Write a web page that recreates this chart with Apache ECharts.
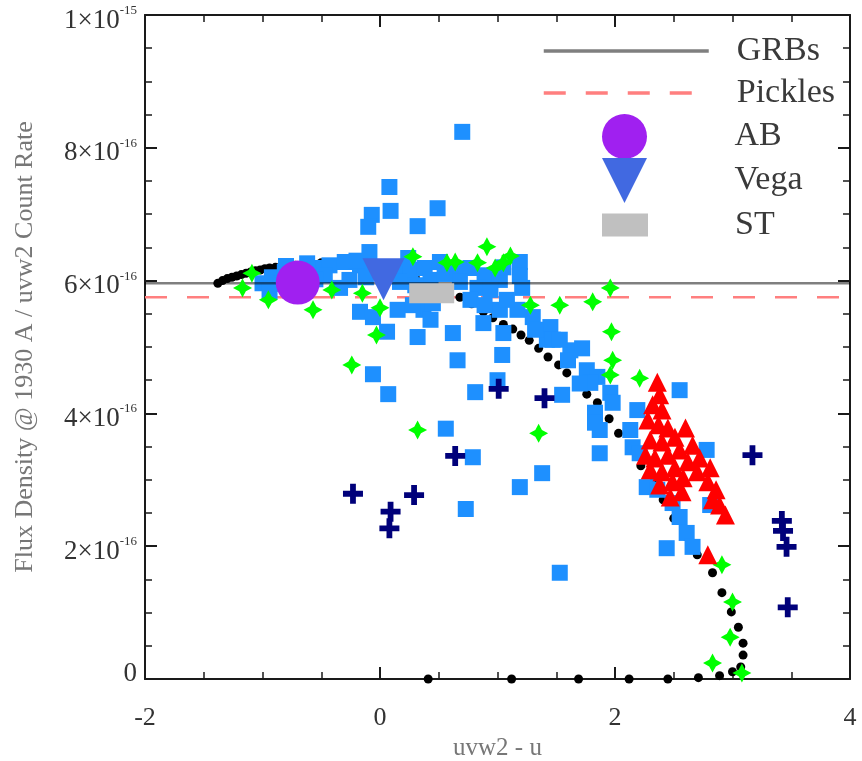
<!DOCTYPE html>
<html>
<head>
<meta charset="utf-8">
<script src="https://cdn.jsdelivr.net/npm/echarts@6/dist/echarts.min.js"></script>
<style>html,body{margin:0;padding:0;background:#fff}#c{width:862px;height:761px}</style>
</head>
<body>
<div id="c"></div>
<script>
// y values in units of 1e-16
const xTickValues = [-2, 0, 2, 4];
const yTickValues = [0, 2, 4, 6, 8, 10];
const yTickMantissa = ['0', '2', '4', '6', '8', '1'];
const yTickExponent = ['', '-16', '-16', '-16', '-16', '-15'];

const grbLevel = 5.96;
const picklesLevel = 5.75;

const abPoint = [[-0.70, 5.97]];
const vegaPoint = [[0.03, 6.02]];
const stPoint = [[0.44, 5.81]];

const blackDots = [[-1.38,5.96],[-1.34,6.0],[-1.30,6.03],[-1.26,6.05],[-1.22,6.07],[-1.18,6.09],[-1.14,6.11],[-1.10,6.13],[-1.06,6.15],[-1.02,6.16],[-0.98,6.18],[-0.94,6.19],[-0.89,6.2],[-0.84,6.21],[-0.79,6.22],[-0.72,6.23],[-0.65,6.25],[-0.58,6.26],[-0.5,6.27],[-0.42,6.27],[-0.3,6.26],[-0.15,6.23],[0,6.19],[0.15,6.13],[0.3,6.05],[0.44,5.96],[0.57,5.86],[0.68,5.75],[0.78,5.65],[0.88,5.53],[0.96,5.44],[1.05,5.34],[1.13,5.27],[1.2,5.18],[1.27,5.1],[1.35,4.98],[1.43,4.85],[1.52,4.73],[1.59,4.61],[1.69,4.44],[1.76,4.29],[1.85,4.16],[1.95,3.92],[2.03,3.7],[2.13,3.46],[2.22,3.21],[2.32,2.95],[2.41,2.7],[2.5,2.42],[2.6,2.15],[2.7,1.87],[2.83,1.6],[2.91,1.3],[2.99,1.01],[3.05,0.78],[3.09,0.54],[3.09,0.36],[3.07,0.18],[3.0,0.11],[2.89,0.05],[2.71,0.02],[2.45,0],[2.12,0],[1.69,0],[1.12,0],[0.41,0]];

const blueSquares = [[0.08,7.41],[0.09,7.05],[-0.07,6.99],[-0.1,6.81],[0.32,6.82],[0.49,7.09],[0.7,8.24],[-0.09,6.43],
[-1.0,5.96],[-0.92,6.05],[-0.81,6.13],[-0.68,6.13],[-0.55,6.19],[-0.43,6.23],[-0.3,6.28],[-0.17,6.23],[-0.04,6.19],[0.13,6.19],[0.26,6.16],[0.38,6.19],[0.51,6.28],[0.64,6.16],[0.77,6.19],[0.89,6.08],[1.02,6.01],[1.19,6.28],[1.19,6.07],[1.21,5.89],[0.24,6.34],[-0.47,6.08],[-0.26,6.01],[-0.34,5.89],[0.17,5.98],[0.43,6.01],[0.68,5.98],[0.83,5.89],[0.94,5.86],[-0.68,5.93],[-0.94,5.83],[-0.85,5.95],[-0.55,6.02],[-0.12,6.05],[0.3,5.93],[0.55,6.1],[1.05,6.2],[-0.8,6.22],[-0.62,6.26],[-0.2,6.3],
[-0.17,5.53],[-0.06,5.45],[0.15,5.56],[0.06,5.23],[0.37,5.56],[0.43,5.41],[0.32,5.15],[0.28,5.63],[0.45,5.66],[0.62,5.21],[0.66,4.8],[1.04,4.88],[1.05,5.21],[-0.06,4.59],[0.07,4.29],[0.81,4.32],[1.0,4.5],[0.56,3.77],[0.79,3.34],[1.19,2.89],[1.38,3.1],[0.73,2.56],[1.55,4.28],[1.53,1.6],[0.88,5.36],[1.02,5.56],[1.17,5.56],[1.3,5.45],[1.45,5.3],[1.42,5.11],[1.62,4.95],[1.72,4.98],[1.08,5.71],[1.47,5.11],[1.76,4.65],[1.85,4.55],[1.96,4.31],[1.98,4.16],[1.83,4.01],[1.87,3.75],[1.87,3.4],[2.19,4.05],[2.13,3.75],[2.15,3.49],[2.27,2.89],[2.36,2.85],[2.49,2.65],[2.55,2.44],[2.61,2.2],[2.44,1.97],[2.55,4.35],[2.78,3.45],[2.81,2.62],[2.66,1.99],[1.79,4.46],[2.21,3.4],[1.83,3.86],[0.77,5.71],[0.89,5.63],[1.32,5.26],[1.53,5.11],[1.6,4.8],[1.7,4.45]];

const greenStars = [[-1.09,6.11],[-1.17,5.89],[-0.95,5.71],[-0.57,5.56],[-0.41,5.86],[-0.15,5.81],[0.0,5.59],[-0.03,5.18],[-0.24,4.73],[0.28,6.36],[0.32,3.75],[1.35,3.7],[0.64,6.28],[0.57,6.27],[0.83,6.27],[0.91,6.51],[0.98,6.19],[1.11,6.37],[1.05,6.27],[1.28,5.63],[1.53,5.63],[1.81,5.68],[1.96,5.89],[1.97,5.23],[1.98,4.8],[1.96,4.58],[2.21,4.53],[2.91,1.72],[3.0,1.16],[2.98,0.63],[2.83,0.24],[3.08,0.09]];

const navyCrosses = [[-0.23,2.79],[0.09,2.52],[0.08,2.27],[0.29,2.77],[0.64,3.36],[1.01,4.37],[1.4,4.23],[3.17,3.37],[3.42,2.38],[3.43,2.23],[3.46,1.99],[3.47,1.08]];

const redTriangles = [[2.36,4.47],[2.38,4.28],[2.32,4.13],[2.4,4.05],[2.28,3.9],[2.37,3.83],[2.45,3.78],[2.3,3.6],[2.4,3.57],[2.51,3.64],[2.6,3.78],[2.26,3.37],[2.34,3.33],[2.45,3.37],[2.55,3.45],[2.66,3.52],[2.3,3.15],[2.4,3.12],[2.51,3.18],[2.62,3.27],[2.72,3.33],[2.38,2.92],[2.49,2.97],[2.58,3.03],[2.7,3.12],[2.81,3.18],[2.47,2.74],[2.57,2.82],[2.79,2.97],[2.86,2.85],[2.83,2.7],[2.89,2.62],[2.94,2.47],[2.79,1.87]];

const FONT = "'Liberation Serif','Times New Roman',serif";
const STAR = 'path://M0,-10 L3.5,-3.5 L10,0 L3.5,3.5 L0,10 L-3.5,3.5 L-10,0 L-3.5,-3.5 Z';
const PLUS = 'path://M-2.6,-9 h5.2 v6.4 h6.4 v5.2 h-6.4 v6.4 h-5.2 v-6.4 h-6.4 v-5.2 h6.4 z';
const DOWNTRI = 'path://M0,0 L2,0 L1,2 Z';

const axisCommon = {
  min: 0, max: 10, interval: 2,
  axisLine: {show: true, onZero: false, lineStyle: {color: '#1a1a1a', width: 2}},
  axisTick: {inside: true, length: 12, lineStyle: {color: '#1a1a1a', width: 2}},
  minorTick: {show: true, splitNumber: 4, length: 7, lineStyle: {color: '#1a1a1a', width: 1.5}},
  splitLine: {show: false}
};

function yLabel(v) {
  const i = yTickValues.indexOf(Math.round(v));
  if (i < 0) return '';
  if (yTickExponent[i] === '') return '{z|' + yTickMantissa[i] + '}';
  return '{b|' + yTickMantissa[i] + '×10}{s|' + yTickExponent[i] + '}';
}

const legendBase = {
  orient: 'vertical', padding: 0, selectedMode: false,
  itemStyle: {opacity: 0},
  textStyle: {fontFamily: FONT, fontSize: 34, color: '#3a3a3a', lineHeight: 34}
};
const symLegend = {itemStyle: {opacity: 1}};

const chart = echarts.init(document.getElementById('c'), null, {renderer: 'canvas'});
chart.setOption({
  animation: false,
  backgroundColor: '#fff',
  grid: {left: 145, right: 12, top: 15, bottom: 82, containLabel: false, outerBoundsMode: 'none'},
  xAxis: [
    Object.assign({}, axisCommon, {
      type: 'value', min: -2, max: 4, interval: 2, position: 'bottom',
      name: 'uvw2 - u', nameLocation: 'middle', nameGap: 55,
      nameTextStyle: {fontFamily: FONT, fontSize: 25, color: '#777'},
      axisLabel: {margin: 26, fontFamily: FONT, fontSize: 26, color: '#333',
        formatter: v => xTickValues.indexOf(v) >= 0 ? String(v) : ''}
    }),
    Object.assign({}, axisCommon, {
      type: 'value', min: -2, max: 4, interval: 2, position: 'top', axisLabel: {show: false}
    })
  ],
  yAxis: [
    Object.assign({}, axisCommon, {
      type: 'value', position: 'left',
      name: 'Flux Density @ 1930 A / uvw2 Count Rate', nameLocation: 'middle', nameGap: 107,
      nameTextStyle: {fontFamily: FONT, fontSize: 26, color: '#777'},
      axisLabel: {margin: 8, formatter: yLabel,
        rich: {
          b: {fontFamily: FONT, fontSize: 27, color: '#333', lineHeight: 30, padding: [11, 0, 0, 0]},
          s: {fontFamily: FONT, fontSize: 13, color: '#333', verticalAlign: 'top', lineHeight: 14, padding: [4, 0, 0, 0]},
          z: {fontFamily: FONT, fontSize: 27, color: '#333', lineHeight: 30, padding: [0, 0, 10, 0]}
        }}
    }),
    Object.assign({}, axisCommon, {type: 'value', position: 'right', axisLabel: {show: false}})
  ],
  legend: [
    Object.assign({}, legendBase, {data: ['GRBs'], left: 542, top: 34, itemWidth: 165, itemHeight: 14,
      lineStyle: {width: 3.5}, textStyle: Object.assign({}, legendBase.textStyle, {padding: [0, 0, 0, 23]})}),
    Object.assign({}, legendBase, {data: ['Pickles'], left: 542, top: 76, itemWidth: 165, itemHeight: 14,
      lineStyle: {width: 3.5}, textStyle: Object.assign({}, legendBase.textStyle, {padding: [0, 0, 0, 23]})}),
    Object.assign({}, legendBase, symLegend, {data: ['AB'], left: 602, top: 114, itemWidth: 46, itemHeight: 45,
      textStyle: Object.assign({}, legendBase.textStyle, {padding: [0, 0, 0, 82]})}),
    Object.assign({}, legendBase, symLegend, {data: [{name: 'Vega', icon: DOWNTRI}], left: 602, top: 158, itemWidth: 46, itemHeight: 45,
      textStyle: Object.assign({}, legendBase.textStyle, {padding: [0, 0, 0, 82]})}),
    Object.assign({}, legendBase, symLegend, {data: [{name: 'ST', icon: 'rect'}], left: 602, top: 208, itemWidth: 46, itemHeight: 23,
      textStyle: Object.assign({}, legendBase.textStyle, {padding: [0, 0, 0, 82]})})
  ],
  series: [
    {name: 'Pickles', type: 'line', data: [[-2, picklesLevel], [4, picklesLevel]], symbol: 'none', z: 1,
      lineStyle: {color: '#ff7f7f', width: 2.5, type: [22, 20]}, itemStyle: {color: '#ff7f7f'}},
    {name: 'model', type: 'scatter', data: blackDots, symbol: 'circle', symbolSize: 9, z: 2,
      itemStyle: {color: '#000', opacity: 1}},
    {name: 'squares', type: 'scatter', data: blueSquares, symbol: 'rect', symbolSize: 16, z: 3,
      itemStyle: {color: '#1e90ff', opacity: 1}},
    {name: 'GRBs', type: 'line', data: [[-2, grbLevel], [4, grbLevel]], symbol: 'none', z: 4,
      lineStyle: {color: 'rgba(0,0,0,0.5)', width: 2.5}, itemStyle: {color: '#888'}},
    {name: 'stars', type: 'scatter', data: greenStars, symbol: STAR, symbolSize: 19, z: 5,
      itemStyle: {color: '#00ff00', opacity: 1}},
    {name: 'crosses', type: 'scatter', data: navyCrosses, symbol: PLUS, symbolSize: 20, z: 6,
      itemStyle: {color: '#00007a', opacity: 1}},
    {name: 'triangles', type: 'scatter', data: redTriangles, symbol: 'triangle', symbolSize: 19, z: 7,
      itemStyle: {color: '#ff0000', opacity: 1}},
    {name: 'AB', type: 'scatter', data: abPoint, symbol: 'circle', symbolSize: 44, z: 8,
      itemStyle: {color: '#a020f0', opacity: 1}},
    {name: 'Vega', type: 'scatter', data: vegaPoint, symbol: DOWNTRI, symbolSize: [42, 42], z: 9,
      itemStyle: {color: '#4169e1', opacity: 1}},
    {name: 'ST', type: 'scatter', data: stPoint, symbol: 'rect', symbolSize: [45, 20], z: 10,
      itemStyle: {color: '#c0c0c0', opacity: 1}}
  ]
});
</script>
</body>
</html>
